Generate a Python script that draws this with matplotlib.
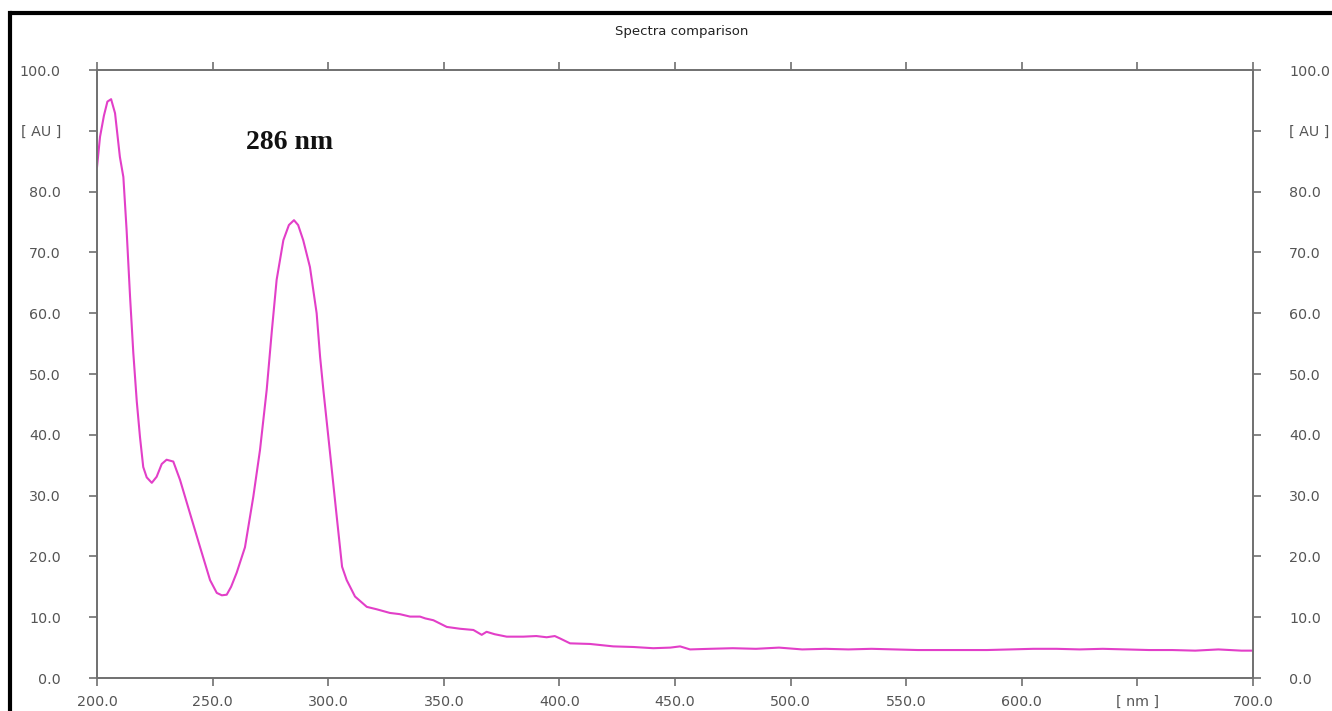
import matplotlib
matplotlib.use("Agg")
import matplotlib.pyplot as plt
from matplotlib.lines import Line2D

plt.rcParams["font.family"] = ["DejaVu Sans"]

wavelength = [200, 201.3, 203, 204.5, 206.1, 207.8, 209.9, 211.4, 212.8, 214.3, 215.7, 217.2,
              218.6, 220.0, 221.5, 223.7, 225.8, 228, 230.1, 233.0, 235.9, 240.2, 244.6, 248.9,
              251.8, 254, 256.1, 258, 260.4, 264.0, 267.6, 270.5, 273.4, 275.6, 277.7, 280.6,
              283, 285.2, 287, 289.2, 292.1, 295.0, 296.5, 297.9, 300.8, 303.7, 306, 308,
              311.6, 316.7, 321, 326.7, 331, 335.4, 339.7, 342, 345.5, 351.3, 357, 362.8,
              366.4, 368.5, 372, 377.2, 384.4, 390, 394.5, 398, 400.3, 404.6, 413.2, 423.3,
              432, 440.6, 448, 452.2, 456.5, 465, 475, 485, 495, 505, 515, 525, 535, 545,
              555, 565, 575, 585, 595, 605, 615, 625, 635, 645, 655, 665, 675, 685, 695, 700]
absorbance = [84.0, 89.0, 92.5, 94.8, 95.2, 92.9, 85.7, 82.4, 73.7, 62.7, 53.5, 45.5,
              39.6, 34.7, 33.0, 32.1, 33.1, 35.2, 35.9, 35.6, 32.6, 27.1, 21.5, 16.1,
              14.0, 13.6, 13.7, 15.0, 17.3, 21.5, 29.8, 37.5, 47.4, 57.0, 65.5, 72.0,
              74.5, 75.3, 74.5, 72.0, 67.6, 60.0, 52.8, 47.4, 37.0, 26.5, 18.3, 16.1,
              13.4, 11.7, 11.3, 10.7, 10.5, 10.1, 10.1, 9.8, 9.5, 8.4, 8.1, 7.9,
              7.1, 7.6, 7.2, 6.8, 6.8, 6.9, 6.7, 6.9, 6.5, 5.7, 5.6, 5.2,
              5.1, 4.9, 5.0, 5.2, 4.7, 4.8, 4.9, 4.8, 5.0, 4.7, 4.8, 4.7, 4.8, 4.7,
              4.6, 4.6, 4.6, 4.6, 4.7, 4.8, 4.8, 4.7, 4.8, 4.7, 4.6, 4.6, 4.5, 4.7, 4.5, 4.5]

x_ticks = [200, 250, 300, 350, 400, 450, 500, 550, 600, 650, 700]
x_labels = ["200.0", "250.0", "300.0", "350.0", "400.0", "450.0", "500.0", "550.0", "600.0", "[ nm ]", "700.0"]
y_ticks = [0, 10, 20, 30, 40, 50, 60, 70, 80, 90, 100]
y_labels = ["0.0", "10.0", "20.0", "30.0", "40.0", "50.0", "60.0", "70.0", "80.0", "[ AU ]", "100.0"]

W, H = 1332, 711
fig = plt.figure(figsize=(W / 100, H / 100), dpi=100)
fig.patch.set_facecolor("white")
ax = fig.add_axes([97 / W, 1 - 678 / H, (1253 - 97) / W, (678 - 70) / H])

ax.plot(wavelength, absorbance, color="#e23fc8", lw=1.5)
ax.set_xlim(200, 700)
ax.set_ylim(0, 100)

spine_c = "#707070"
for s in ax.spines.values():
    s.set_color(spine_c)
    s.set_linewidth(1.4)

ax.set_xticks(x_ticks)
ax.set_xticklabels(x_labels)
ax.set_yticks(y_ticks)
ax.set_yticklabels(y_labels)
ax.tick_params(axis="both", direction="out", length=6, width=1.2, color=spine_c,
               labelcolor="#555555", labelsize=10.3, top=True, right=True,
               labelright=True, labeltop=False)
ax.tick_params(axis="y", pad=20)
ax.tick_params(axis="x", pad=6)

fig.text(682 / W, 1 - 32 / H, "Spectra comparison", ha="center", va="center",
         fontsize=9.5, color="#222222", family="DejaVu Sans")

ax.text(283.3, 88.0, "286 nm", ha="center", va="center", fontsize=20,
        fontweight="bold", family="Liberation Serif", color="#111111")

# black frame at top and left
ytop = 1 - 13 / H
xleft = 10 / W
fig.add_artist(Line2D([xleft, 1.0], [ytop, ytop], transform=fig.transFigure,
                      color="black", lw=3.0, solid_capstyle="butt"))
fig.add_artist(Line2D([xleft, xleft], [0.0, ytop], transform=fig.transFigure,
                      color="black", lw=3.0, solid_capstyle="projecting"))

fig.savefig("out.png", dpi=100)
